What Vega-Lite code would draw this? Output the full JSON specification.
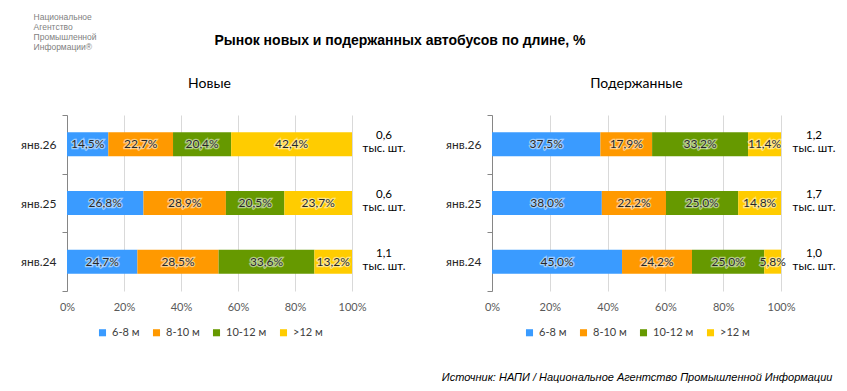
{
  "$schema": "https://vega.github.io/schema/vega-lite/v6.json",
  "background": "white",
  "padding": {"left": 20, "top": 12, "right": 5, "bottom": 8},
  "config": {
    "font": "Lato",
    "view": {"stroke": null},
    "axisY": {"title": null, "domainColor": "#868686", "tickColor": "#868686", "tickSize": 5, "tickBand": "extent", "labelPadding": 6, "labelFontSize": 12, "labelColor": "#262626", "grid": false},
    "axisX": {"title": null, "domain": false, "ticks": false, "tickSize": 0, "grid": true, "gridColor": "#d9d9d9", "labelFontSize": 11, "labelColor": "#595959", "labelPadding": 10, "labelFlush": false},
    "legend": {"orient": "bottom", "direction": "horizontal", "title": null, "symbolType": "square", "symbolSize": 50, "symbolStrokeWidth": 0, "labelFontSize": 11, "labelColor": "#404040", "columnPadding": 11, "offset": 15, "layout": {"bottom": {"anchor": "middle"}}},
    "title": {"fontWeight": "normal", "color": "#000000"}
  },
  "datasets": {
    "d": [
      {"type": "Новые", "date": "янв.26", "seg": "6-8 м", "pct": 14.5},
      {"type": "Новые", "date": "янв.26", "seg": "8-10 м", "pct": 22.7},
      {"type": "Новые", "date": "янв.26", "seg": "10-12 м", "pct": 20.4},
      {"type": "Новые", "date": "янв.26", "seg": ">12 м", "pct": 42.4},
      {"type": "Новые", "date": "янв.25", "seg": "6-8 м", "pct": 26.8},
      {"type": "Новые", "date": "янв.25", "seg": "8-10 м", "pct": 28.9},
      {"type": "Новые", "date": "янв.25", "seg": "10-12 м", "pct": 20.5},
      {"type": "Новые", "date": "янв.25", "seg": ">12 м", "pct": 23.7},
      {"type": "Новые", "date": "янв.24", "seg": "6-8 м", "pct": 24.7},
      {"type": "Новые", "date": "янв.24", "seg": "8-10 м", "pct": 28.5},
      {"type": "Новые", "date": "янв.24", "seg": "10-12 м", "pct": 33.6},
      {"type": "Новые", "date": "янв.24", "seg": ">12 м", "pct": 13.2},
      {"type": "Подержанные", "date": "янв.26", "seg": "6-8 м", "pct": 37.5},
      {"type": "Подержанные", "date": "янв.26", "seg": "8-10 м", "pct": 17.9},
      {"type": "Подержанные", "date": "янв.26", "seg": "10-12 м", "pct": 33.2},
      {"type": "Подержанные", "date": "янв.26", "seg": ">12 м", "pct": 11.4},
      {"type": "Подержанные", "date": "янв.25", "seg": "6-8 м", "pct": 38.0},
      {"type": "Подержанные", "date": "янв.25", "seg": "8-10 м", "pct": 22.2},
      {"type": "Подержанные", "date": "янв.25", "seg": "10-12 м", "pct": 25.0},
      {"type": "Подержанные", "date": "янв.25", "seg": ">12 м", "pct": 14.8},
      {"type": "Подержанные", "date": "янв.24", "seg": "6-8 м", "pct": 45.0},
      {"type": "Подержанные", "date": "янв.24", "seg": "8-10 м", "pct": 24.2},
      {"type": "Подержанные", "date": "янв.24", "seg": "10-12 м", "pct": 25.0},
      {"type": "Подержанные", "date": "янв.24", "seg": ">12 м", "pct": 5.8}
    ],
    "t": [
      {"type": "Новые", "date": "янв.26", "total": 0.6},
      {"type": "Новые", "date": "янв.25", "total": 0.6},
      {"type": "Новые", "date": "янв.24", "total": 1.1},
      {"type": "Подержанные", "date": "янв.26", "total": 1.2},
      {"type": "Подержанные", "date": "янв.25", "total": 1.7},
      {"type": "Подержанные", "date": "янв.24", "total": 1.0}
    ]
  },
  "title": {"text": "Источник: НАПИ / Национальное Агентство Промышленной Информации", "orient": "bottom", "anchor": "end", "frame": "bounds", "font": "Liberation Sans", "fontStyle": "italic", "fontSize": 11, "fontWeight": "normal", "color": "#000000", "offset": 34, "dx": -3},
  "vconcat": [
    {
      "title": {"text": ["Национальное", "Агентство", "Промышленной", "Информации®"], "anchor": "start", "frame": "bounds", "font": "Liberation Sans", "fontSize": 8.5, "lineHeight": 10, "color": "#7f7f7f", "offset": -17, "dx": 13},
      "vconcat": [
        {
          "title": {"text": "Рынок новых и подержанных автобусов по длине, %", "anchor": "middle", "frame": "bounds", "font": "Liberation Sans", "fontSize": 14, "fontWeight": "bold", "color": "#000000", "offset": 29, "dx": -28},
          "spacing": 140,
          "bounds": "flush",
          "resolve": {"legend": {"color": "independent"}},
          "hconcat": [
            {
              "title": {"text": "Новые", "fontSize": 14, "offset": 18},
              "width": 285,
              "height": 176,
              "data": {"name": "d"},
              "transform": [
                {"filter": "datum.type === 'Новые'"},
                {"calculate": "indexof(['6-8 м','8-10 м','10-12 м','>12 м'], datum.seg)", "as": "k"},
                {"stack": "pct", "groupby": ["date"], "sort": [{"field": "k", "order": "ascending"}], "offset": "normalize", "as": ["x0", "x1"]},
                {"calculate": "(datum.x0 + datum.x1) / 2", "as": "xm"},
                {"calculate": "replace(format(datum.pct, '.1f'), '.', ',') + '%'", "as": "lbl"}
              ],
              "layer": [
                {
                  "mark": {"type": "bar", "height": {"band": 0.41}},
                  "encoding": {
                    "y": {"field": "date", "type": "nominal", "sort": ["янв.26", "янв.25", "янв.24"], "scale": {"paddingInner": 0, "paddingOuter": 0}},
                    "x": {"field": "x0", "type": "quantitative", "scale": {"domain": [0, 1], "nice": false}, "axis": {"values": [0, 0.2, 0.4, 0.6, 0.8, 1], "format": ".0%"}},
                    "x2": {"field": "x1"},
                    "color": {"field": "seg", "type": "nominal", "scale": {"domain": ["6-8 м", "8-10 м", "10-12 м", ">12 м"], "range": ["#3a9bff", "#ff9900", "#669900", "#ffcc00"]}}
                  }
                },
                {
                  "mark": {"type": "text", "fontSize": 12, "fill": "#ffffff", "stroke": "#ffffff", "strokeWidth": 2.5, "strokeOpacity": 0.5, "fillOpacity": 0.5},
                  "encoding": {
                    "y": {"field": "date", "type": "nominal", "sort": ["янв.26", "янв.25", "янв.24"]},
                    "x": {"field": "xm", "type": "quantitative"},
                    "text": {"field": "lbl"}
                  }
                },
                {
                  "mark": {"type": "text", "fontSize": 12, "color": "#262626"},
                  "encoding": {
                    "y": {"field": "date", "type": "nominal", "sort": ["янв.26", "янв.25", "янв.24"]},
                    "x": {"field": "xm", "type": "quantitative"},
                    "text": {"field": "lbl"}
                  }
                },
                {
                  "data": {"name": "t"},
                  "transform": [
                    {"filter": "datum.type === 'Новые'"},
                    {"calculate": "replace(format(datum.total, '.1f'), '.', ',')", "as": "tt"}
                  ],
                  "layer": [
                    {
                      "mark": {"type": "text", "fontSize": 11.5, "color": "#000000", "dx": 32, "dy": -8},
                      "encoding": {
                        "y": {"field": "date", "type": "nominal", "sort": ["янв.26", "янв.25", "янв.24"]},
                        "x": {"datum": 1, "type": "quantitative"},
                        "text": {"field": "tt"}
                      }
                    },
                    {
                      "mark": {"type": "text", "fontSize": 11.5, "color": "#000000", "dx": 32, "dy": 5, "text": "тыс. шт."},
                      "encoding": {
                        "y": {"field": "date", "type": "nominal", "sort": ["янв.26", "янв.25", "янв.24"]},
                        "x": {"datum": 1, "type": "quantitative"}
                      }
                    }
                  ]
                }
              ]
            },
            {
              "title": {"text": "Подержанные", "fontSize": 14, "offset": 18},
              "width": 289,
              "height": 176,
              "data": {"name": "d"},
              "transform": [
                {"filter": "datum.type === 'Подержанные'"},
                {"calculate": "indexof(['6-8 м','8-10 м','10-12 м','>12 м'], datum.seg)", "as": "k"},
                {"stack": "pct", "groupby": ["date"], "sort": [{"field": "k", "order": "ascending"}], "offset": "normalize", "as": ["x0", "x1"]},
                {"calculate": "(datum.x0 + datum.x1) / 2", "as": "xm"},
                {"calculate": "replace(format(datum.pct, '.1f'), '.', ',') + '%'", "as": "lbl"}
              ],
              "layer": [
                {
                  "mark": {"type": "bar", "height": {"band": 0.41}},
                  "encoding": {
                    "y": {"field": "date", "type": "nominal", "sort": ["янв.26", "янв.25", "янв.24"], "scale": {"paddingInner": 0, "paddingOuter": 0}},
                    "x": {"field": "x0", "type": "quantitative", "scale": {"domain": [0, 1], "nice": false}, "axis": {"values": [0, 0.2, 0.4, 0.6, 0.8, 1], "format": ".0%"}},
                    "x2": {"field": "x1"},
                    "color": {"field": "seg", "type": "nominal", "scale": {"domain": ["6-8 м", "8-10 м", "10-12 м", ">12 м"], "range": ["#3a9bff", "#ff9900", "#669900", "#ffcc00"]}}
                  }
                },
                {
                  "mark": {"type": "text", "fontSize": 12, "fill": "#ffffff", "stroke": "#ffffff", "strokeWidth": 2.5, "strokeOpacity": 0.5, "fillOpacity": 0.5},
                  "encoding": {
                    "y": {"field": "date", "type": "nominal", "sort": ["янв.26", "янв.25", "янв.24"]},
                    "x": {"field": "xm", "type": "quantitative"},
                    "text": {"field": "lbl"}
                  }
                },
                {
                  "mark": {"type": "text", "fontSize": 12, "color": "#262626"},
                  "encoding": {
                    "y": {"field": "date", "type": "nominal", "sort": ["янв.26", "янв.25", "янв.24"]},
                    "x": {"field": "xm", "type": "quantitative"},
                    "text": {"field": "lbl"}
                  }
                },
                {
                  "data": {"name": "t"},
                  "transform": [
                    {"filter": "datum.type === 'Подержанные'"},
                    {"calculate": "replace(format(datum.total, '.1f'), '.', ',')", "as": "tt"}
                  ],
                  "layer": [
                    {
                      "mark": {"type": "text", "fontSize": 11.5, "color": "#000000", "dx": 33, "dy": -8},
                      "encoding": {
                        "y": {"field": "date", "type": "nominal", "sort": ["янв.26", "янв.25", "янв.24"]},
                        "x": {"datum": 1, "type": "quantitative"},
                        "text": {"field": "tt"}
                      }
                    },
                    {
                      "mark": {"type": "text", "fontSize": 11.5, "color": "#000000", "dx": 33, "dy": 5, "text": "тыс. шт."},
                      "encoding": {
                        "y": {"field": "date", "type": "nominal", "sort": ["янв.26", "янв.25", "янв.24"]},
                        "x": {"datum": 1, "type": "quantitative"}
                      }
                    }
                  ]
                }
              ]
            }
          ]
        }
      ]
    }
  ]
}
